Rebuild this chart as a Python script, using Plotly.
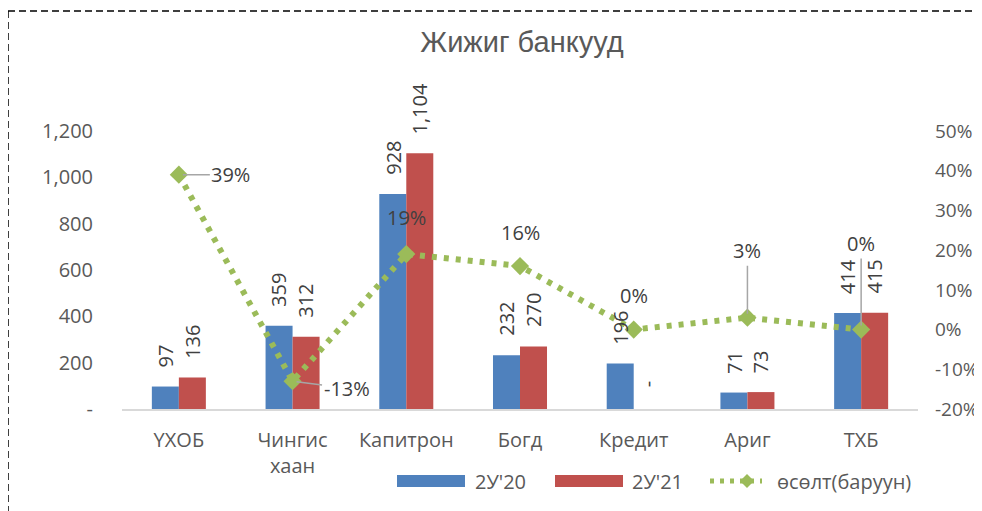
import plotly.graph_objects as go

categories = ["ҮХОБ", "Чингис<br>хаан", "Капитрон", "Богд", "Кредит", "Ариг", "ТХБ"]
values_20 = [97, 359, 928, 232, 196, 71, 414]
values_21 = [136, 312, 1104, 270, 0, 73, 415]
growth = [0.39, -0.13, 0.19, 0.16, 0.0, 0.03, 0.0]
growth_labels = ["39%", "-13%", "19%", "16%", "0%", "3%", "0%"]

left_ticks = [0, 200, 400, 600, 800, 1000, 1200]
left_ticktext = ["-", "200", "400", "600", "800", "1,000", "1,200"]
right_ticks = [-0.2, -0.1, 0.0, 0.1, 0.2, 0.3, 0.4, 0.5]
right_ticktext = ["-20%", "-10%", "0%", "10%", "20%", "30%", "40%", "50%"]

BLUE = "#4F81BD"
RED = "#C0504D"
GREEN = "#9BBB59"
TXT = "#595959"
LBL = "#404040"
FONT = "Open Sans"

# page offset (body margin) -> figure coordinates
OFF = 8
W, H = 982 - OFF, 511 - OFF
L, R, T, B = 122 - OFF, 918 - OFF, 131 - OFF, 409 - OFF

def px(xpage):
    return (xpage - OFF - L) / (R - L)

def py(ypage):
    return (B - (ypage - OFF)) / (B - T)

fig = go.Figure()
fig.add_trace(go.Bar(x=categories, y=values_20, name="2У'20", showlegend=False,
                     marker=dict(color=BLUE, line=dict(width=0))))
fig.add_trace(go.Bar(x=categories, y=values_21, name="2У'21", showlegend=False,
                     marker=dict(color=RED, line=dict(width=0))))
fig.add_trace(go.Scatter(x=categories, y=growth, name="өсөлт(баруун)", yaxis="y2", mode="lines+markers",
                         showlegend=False,
                         line=dict(color=GREEN, width=6, dash="5px,7px"),
                         marker=dict(symbol="diamond", size=14, color=GREEN)))

annotations = []

def fmt(v):
    return "-" if v == 0 else f"{v:,}"

for c, v in zip(categories, values_20):
    annotations.append(dict(x=c, y=v, xref="x", yref="y", text=fmt(v), textangle=-90, showarrow=False,
                            xshift=-13.5, yanchor="bottom", yshift=17, font=dict(family=FONT, size=20, color=LBL)))
for c, v in zip(categories, values_21):
    annotations.append(dict(x=c, y=v, xref="x", yref="y", text=fmt(v), textangle=-90, showarrow=False,
                            xshift=13.5, yanchor="bottom", yshift=17 if v else 20,
                            font=dict(family=FONT, size=20, color=LBL)))

g_pos = [
    dict(arrow=True, ax=52, ay=0),
    dict(arrow=True, ax=54, ay=7),
    dict(arrow=False, yshift=37),
    dict(arrow=False, yshift=34),
    dict(arrow=False, yshift=34),
    dict(arrow=True, ax=0, ay=-67),
    dict(arrow=True, ax=0, ay=-86),
]
for c, g, t, p in zip(categories, growth, growth_labels, g_pos):
    a = dict(x=c, y=g, xref="x", yref="y2", text=t, font=dict(family=FONT, size=20, color=LBL))
    if p["arrow"]:
        a.update(showarrow=True, arrowhead=0, arrowwidth=1.5, arrowcolor="#A6A6A6", ax=p["ax"], ay=p["ay"], standoff=4)
    else:
        a.update(showarrow=False, yshift=p["yshift"])
    annotations.append(a)

# manual legend (wide swatches like the reference)
leg_y = 481
names = [fig.data[0].name, fig.data[1].name, fig.data[2].name]
shapes = [
    dict(type="line", xref="paper", yref="paper", x0=px(8), x1=px(982), y0=py(11), y1=py(11),
         line=dict(color="black", width=1.5, dash="7px,4px")),
    dict(type="line", xref="paper", yref="paper", x0=px(8), x1=px(8), y0=py(11), y1=py(515),
         line=dict(color="black", width=1.5, dash="7px,4px")),
    dict(type="rect", xref="paper", yref="paper", x0=px(397), x1=px(465), y0=py(475), y1=py(487),
         fillcolor=BLUE, line=dict(width=0)),
    dict(type="rect", xref="paper", yref="paper", x0=px(555), x1=px(623), y0=py(475), y1=py(487),
         fillcolor=RED, line=dict(width=0)),
    dict(type="line", xref="paper", yref="paper", x0=px(710), x1=px(762), y0=py(leg_y), y1=py(leg_y),
         line=dict(color=GREEN, width=5, dash="4px,6px")),
]
cx, cy, r = px(747), py(leg_y), 7
dx = r / (R - L)
dy = r / (B - T)
shapes.append(dict(type="path", xref="paper", yref="paper",
                   path=f"M {cx - dx} {cy} L {cx} {cy + dy} L {cx + dx} {cy} L {cx} {cy - dy} Z",
                   fillcolor=GREEN, line=dict(width=0)))
for xt, name in zip([473, 630, 775], names):
    annotations.append(dict(x=px(xt), y=py(leg_y), xref="paper", yref="paper", text=name, showarrow=False,
                            xanchor="left", yanchor="middle", font=dict(family=FONT, size=20, color=TXT)))

fig.update_layout(
    width=W, height=H,
    margin=dict(l=L, r=W - R, t=T, b=H - B, autoexpand=False),
    paper_bgcolor="white", plot_bgcolor="white",
    title=dict(text="Жижиг банкууд", x=(522 - OFF) / W, xanchor="center", y=1 - (42 - OFF) / H, yanchor="middle",
               font=dict(family="Liberation Sans", size=29, color=TXT), automargin=False),
    barmode="group", bargap=0.525, bargroupgap=0,
    font=dict(family=FONT, size=20, color=TXT),
    xaxis=dict(showline=True, linecolor="#D9D9D9", linewidth=2, showgrid=False, ticks="", automargin=False,
               tickfont=dict(family=FONT, size=20, color=TXT), ticklabelstandoff=12),
    yaxis=dict(range=[0, 1200], tickvals=left_ticks, ticktext=left_ticktext, showgrid=False, zeroline=False,
               showline=False, ticks="", ticklabelstandoff=28, automargin=False,
               tickfont=dict(family=FONT, size=20, color=TXT)),
    yaxis2=dict(range=[-0.2, 0.5], tickvals=right_ticks, ticktext=right_ticktext, overlaying="y", side="right",
                showgrid=False, zeroline=False, showline=False, ticks="", ticklabelstandoff=16, automargin=False,
                tickfont=dict(family=FONT, size=19, color=TXT)),
    showlegend=False,
    annotations=annotations,
    shapes=shapes,
)

fig.write_html("out.html")
